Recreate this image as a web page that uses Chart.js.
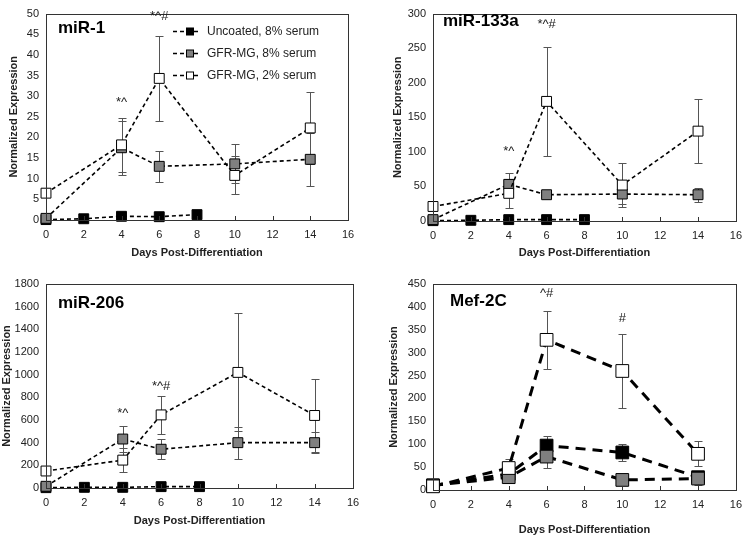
<!DOCTYPE html>
<html>
<head>
<meta charset="utf-8">
<script src="https://cdn.jsdelivr.net/npm/chart.js@4/dist/chart.umd.min.js"></script>
<style>
html, body { margin:0; padding:0; background:#fff; }
#wrap { position:relative; width:750px; height:538px; overflow:hidden; }
canvas { position:absolute; }
</style>
</head>
<body>
<div id="wrap">
  <canvas id="c1" width="375" height="268" style="left:0;top:0"></canvas>
  <canvas id="c2" width="375" height="268" style="left:375px;top:0"></canvas>
  <canvas id="c3" width="375" height="270" style="left:0;top:268px"></canvas>
  <canvas id="c4" width="375" height="270" style="left:375px;top:268px"></canvas>
</div>
<script>
/* ---------- Data ---------- */
const seriesNames = ['Uncoated, 8% serum', 'GFR-MG, 8% serum', 'GFR-MG, 2% serum'];
const uncoatedDays = [0, 2, 4, 6, 8];
const gfrDays = [0, 4, 6, 10, 14];
const mefDays = [0, 4, 6, 10, 14];

// miR-1
const mir1Uncoated = [0.1, 0.3, 0.9, 0.8, 1.3];
const mir1Gfr8 = [0.4, 17.5, 13.0, 13.6, 14.7];
const mir1Gfr8Err = [0, 6.5, 3.8, 4.7, 6.4];
const mir1Gfr2 = [6.5, 18.2, 34.3, 10.8, 22.3];
const mir1Gfr2Err = [0, 6.5, 10.2, 4.6, 8.8];

// miR-133a
const mir133Uncoated = [0.5, 1, 2, 2, 2];
const mir133Gfr8 = [2, 53, 38, 39, 38];
const mir133Gfr8Err = [0, 17, 0, 15, 10];
const mir133Gfr2 = [21, 40, 173, 52, 130];
const mir133Gfr2Err = [0, 21, 79, 32, 46];

// miR-206
const mir206Uncoated = [3, 6, 6, 12, 12];
const mir206Gfr8 = [15, 432, 342, 400, 400];
const mir206Gfr8Err = [0, 111, 90, 140, 90];
const mir206Gfr2 = [150, 246, 645, 1020, 640];
const mir206Gfr2Err = [0, 108, 170, 520, 325];

// Mef-2C
const mefUncoated = [10, 35, 97, 82, 28];
const mefUncoatedErr = [0, 0, 22, 18, 0];
const mefGfr8 = [10, 28, 73, 22, 25];
const mefGfr8Err = [0, 0, 24, 0, 14];
const mefGfr2 = [8, 48, 328, 260, 79];
const mefGfr2Err = [0, 20, 64, 80, 27];

const FONT = '"Liberation Sans", Arial, sans-serif';
const markFill = ['#000000', '#808080', '#ffffff'];

/* ---------- Helpers ---------- */
function pts(xs, ys){ return xs.map((x, i) => ({x, y: ys[i]})); }

function makeSets(rows, big){
  const r = big ? 9 : 7;
  return rows.map((row, i) => ({
    label: seriesNames[i],
    data: pts(row.days, row.vals),
    err: row.err || [],
    showLine: true,
    clip: false,
    borderColor: '#000',
    borderWidth: big ? 3 : 1.6,
    borderDash: big ? [10, 7] : [4, 3],
    pointStyle: 'rect',
    pointRadius: r,
    pointHoverRadius: r,
    pointBackgroundColor: markFill[i],
    pointBorderColor: '#000',
    pointBorderWidth: 1,
    order: 3 - i
  }));
}

/* draws box, inner ticks, error bars, panel title, notes, legend */
const panelPlugin = {
  id: 'panel',
  beforeDatasetsDraw(chart){
    const ctx = chart.ctx, xs = chart.scales.x, ys = chart.scales.y;
    ctx.save();
    ctx.strokeStyle = '#555';
    ctx.lineWidth = 1;
    chart.data.datasets.forEach(ds => {
      ds.data.forEach((p, i) => {
        const e = ds.err[i];
        if (!e) return;
        const x = Math.round(xs.getPixelForValue(p.x)) + 0.5;
        const y1 = Math.round(ys.getPixelForValue(p.y + e)) + 0.5;
        const y2 = Math.round(ys.getPixelForValue(Math.max(p.y - e, 0))) + 0.5;
        ctx.beginPath();
        ctx.moveTo(x, y1); ctx.lineTo(x, y2);
        ctx.moveTo(x - 4, y1); ctx.lineTo(x + 4, y1);
        ctx.moveTo(x - 4, y2); ctx.lineTo(x + 4, y2);
        ctx.stroke();
      });
    });
    ctx.restore();
  },
  afterDraw(chart, args, o){
    const ctx = chart.ctx, ca = chart.chartArea, xs = chart.scales.x, ys = chart.scales.y;
    ctx.save();
    // frame
    ctx.strokeStyle = '#333';
    ctx.lineWidth = 1;
    ctx.strokeRect(Math.round(ca.left) + 0.5, Math.round(ca.top) + 0.5, Math.round(ca.right - ca.left), Math.round(ca.bottom - ca.top));
    // inner x ticks
    ctx.beginPath();
    xs.ticks.forEach(t => {
      const x = Math.round(xs.getPixelForValue(t.value)) + 0.5;
      ctx.moveTo(x, ca.bottom); ctx.lineTo(x, ca.bottom - 4);
    });
    ctx.stroke();
    // title
    ctx.fillStyle = '#000';
    ctx.font = 'bold 17px ' + FONT;
    ctx.textBaseline = 'middle';
    ctx.textAlign = 'left';
    ctx.fillText(o.title, o.titleX, o.titleY);
    // significance notes
    ctx.font = '13px ' + FONT;
    ctx.textAlign = 'center';
    ctx.fillStyle = '#222';
    (o.notes || []).forEach(n => {
      ctx.fillText(n.text, xs.getPixelForValue(n.x), ys.getPixelForValue(n.y));
    });
    // legend
    if (o.legend){
      ctx.font = '12px ' + FONT;
      ctx.textAlign = 'left';
      chart.data.datasets.forEach((ds, i) => {
        const y = o.legendY + i * 22;
        ctx.strokeStyle = '#000';
        ctx.lineWidth = 1.6;
        ctx.setLineDash([4, 3]);
        ctx.beginPath();
        ctx.moveTo(o.legendX, y + 0.5); ctx.lineTo(o.legendX + 27, y + 0.5);
        ctx.stroke();
        ctx.setLineDash([]);
        ctx.fillStyle = ds.pointBackgroundColor;
        ctx.lineWidth = 1;
        ctx.fillRect(o.legendX + 13.5, y - 3, 7, 7);
        ctx.strokeRect(o.legendX + 13.5, y - 3, 7, 7);
        ctx.fillStyle = '#222';
        ctx.fillText(ds.label, o.legendX + 34, y + 1);
      });
    }
    ctx.restore();
  }
};

function makeChart(id, cfg){
  return new Chart(document.getElementById(id), {
    type: 'scatter',
    data: { datasets: cfg.sets },
    options: {
      responsive: false,
      animation: false,
      layout: { padding: { left: 0, right: cfg.padR, top: cfg.padT, bottom: 0 } },
      plugins: {
        legend: { display: false },
        tooltip: { enabled: false },
        panel: cfg.panel
      },
      scales: {
        x: {
          type: 'linear', min: 0, max: 16,
          grid: { display: false, drawTicks: false },
          border: { display: false },
          ticks: { stepSize: 2, padding: 8, color: '#222', font: { family: FONT, size: 11 }, callback: v => String(v) },
          title: { display: true, text: 'Days Post-Differentiation', color: '#222',
                   font: { family: FONT, size: 11, weight: 'bold' }, padding: { top: 0, bottom: cfg.xtPad } },
          afterFit(s){ s.height = cfg.xH; }
        },
        y: {
          type: 'linear', min: 0, max: cfg.yMax,
          grid: { display: false, drawTicks: false },
          border: { display: false },
          ticks: { stepSize: cfg.yStep, padding: 7, color: '#222', font: { family: FONT, size: 11 }, callback: v => String(v) },
          title: { display: true, text: 'Normalized Expression', color: '#222',
                   font: { family: FONT, size: 11, weight: 'bold' }, padding: { top: cfg.ytPad, bottom: 0 } },
          afterFit(s){ s.width = cfg.yW; }
        }
      }
    },
    plugins: [panelPlugin]
  });
}

/* ---------- Charts ---------- */
makeChart('c1', {
  sets: makeSets([
    { days: uncoatedDays, vals: mir1Uncoated },
    { days: gfrDays, vals: mir1Gfr8, err: mir1Gfr8Err },
    { days: gfrDays, vals: mir1Gfr2, err: mir1Gfr2Err }
  ], false),
  yMax: 50, yStep: 5, yW: 46, xH: 48, padR: 27, padT: 8, xtPad: 8, ytPad: 7,
  panel: { title: 'miR-1', titleX: 58, titleY: 28, legend: true, legendX: 173, legendY: 31,
           notes: [{ x: 4, y: 28.5, text: '*^' }, { x: 6, y: 49.3, text: '*^#' }] }
});

makeChart('c2', {
  sets: makeSets([
    { days: uncoatedDays, vals: mir133Uncoated },
    { days: gfrDays, vals: mir133Gfr8, err: mir133Gfr8Err },
    { days: gfrDays, vals: mir133Gfr2, err: mir133Gfr2Err }
  ], false),
  yMax: 300, yStep: 50, yW: 58, xH: 47, padR: 7, padT: 5, xtPad: 8, ytPad: 16,
  panel: { title: 'miR-133a', titleX: 68, titleY: 21, legend: false,
           notes: [{ x: 4, y: 100, text: '*^' }, { x: 6, y: 285, text: '*^#' }] }
});

makeChart('c3', {
  sets: makeSets([
    { days: uncoatedDays, vals: mir206Uncoated },
    { days: gfrDays, vals: mir206Gfr8, err: mir206Gfr8Err },
    { days: gfrDays, vals: mir206Gfr2, err: mir206Gfr2Err }
  ], false),
  yMax: 1800, yStep: 200, yW: 46, xH: 50, padR: 22, padT: 16, xtPad: 10, ytPad: 0,
  panel: { title: 'miR-206', titleX: 58, titleY: 35, legend: false,
           notes: [{ x: 4, y: 660, text: '*^' }, { x: 6, y: 900, text: '*^#' }] }
});

makeChart('c4', {
  sets: makeSets([
    { days: mefDays, vals: mefUncoated, err: mefUncoatedErr },
    { days: mefDays, vals: mefGfr8, err: mefGfr8Err },
    { days: mefDays, vals: mefGfr2, err: mefGfr2Err }
  ], true),
  yMax: 450, yStep: 50, yW: 58, xH: 48, padR: 7, padT: 16, xtPad: 1, ytPad: 12,
  panel: { title: 'Mef-2C', titleX: 75, titleY: 33, legend: false,
           notes: [{ x: 6, y: 430, text: '^#' }, { x: 10, y: 375, text: '#' }] }
});
</script>
</body>
</html>
